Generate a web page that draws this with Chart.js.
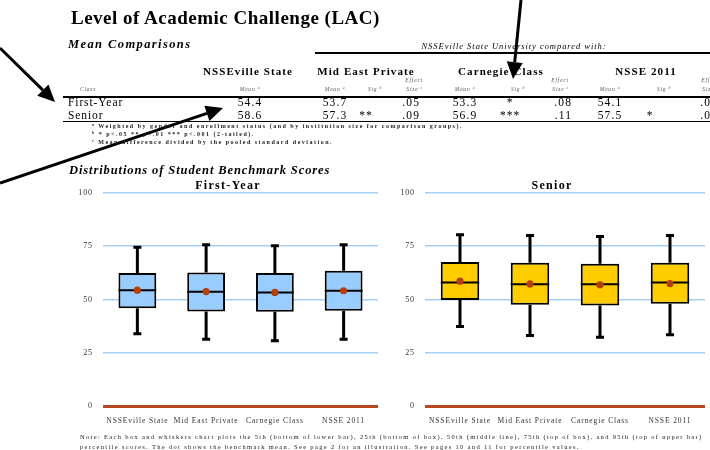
<!DOCTYPE html>
<html>
<head>
<meta charset="utf-8">
<script src="https://cdn.jsdelivr.net/npm/chart.js@4"></script>
<style>
  body { margin: 0; background: #fff; }
  #page { position: relative; width: 710px; height: 450px; overflow: hidden; background: #fff; }
  .t { position: absolute; white-space: nowrap; font-family: "Liberation Serif", "Times New Roman", serif; color: #000; }
  .t sup { font-size: 65%; vertical-align: 0.5em; line-height: 0; }
  .rule { position: absolute; background: #000; }
  .box { position: absolute; }
</style>
</head>
<body>
<div id="page">
  <div class="box" style="left:60px; top:185px; width:322px; height:240px;"><canvas id="firstYear"></canvas></div>
  <div class="box" style="left:382px; top:185px; width:328px; height:240px;"><canvas id="senior"></canvas></div>
  <svg id="arrows" width="710" height="450" style="position:absolute; left:0; top:0; pointer-events:none;"></svg>
</div>
<script>
// table data
const groups = ['NSSEville State', 'Mid East Private', 'Carnegie Class', 'NSSE 2011'];
const classes = ['First-Year', 'Senior'];
const meanFirstYear = [54.4, 53.7, 53.3, 54.1];
const meanSenior = [58.6, 57.3, 56.9, 57.5];
const sigFirstYear = ['', '', '*', ''];
const sigSenior = ['', '**', '***', '*'];
const effectFirstYear = ['', '.05', '.08', '.03'];
const effectSenior = ['', '.09', '.11', '.05'];

// box plot data (percentiles)
const fyP5 = [33.9, 31.3, 30.6, 31.3];
const fyP25 = [45.9, 44.4, 44.2, 44.7];
const fyP50 = [54.4, 53.6, 53.3, 54.1];
const fyP75 = [62.4, 62.7, 62.4, 63.5];
const fyP95 = [74.5, 75.7, 75.2, 75.7];

const srP5 = [37.3, 33.1, 32.3, 33.4];
const srP25 = [49.8, 47.5, 47.2, 48.0];
const srP50 = [58.0, 57.2, 57.2, 58.0];
const srP75 = [67.6, 67.2, 66.8, 67.2];
const srP95 = [80.4, 80.1, 79.6, 80.1];

const yTicks = [0, 25, 50, 75, 100];

const page = document.getElementById('page');

function put(html, x, base, size, o) {
  o = o || {};
  const d = document.createElement('div');
  d.className = 't';
  d.innerHTML = html;
  d.style.left = x + 'px';
  d.style.top = (base - size * 0.84) + 'px';
  d.style.fontSize = size + 'px';
  d.style.lineHeight = size + 'px';
  if (o.bold) d.style.fontWeight = 'bold';
  if (o.italic) d.style.fontStyle = 'italic';
  if (o.ls) d.style.letterSpacing = o.ls + 'px';
  if (o.color) d.style.color = o.color;
  if (o.align === 'c') d.style.transform = 'translateX(-50%)';
  if (o.align === 'r') d.style.transform = 'translateX(-100%)';
  page.appendChild(d);
}

function rule(x, y, w, h) {
  const d = document.createElement('div');
  d.className = 'rule';
  d.style.left = x + 'px'; d.style.top = y + 'px';
  d.style.width = w + 'px'; d.style.height = h + 'px';
  page.appendChild(d);
}

// headings
put('Level of Academic Challenge (LAC)', 71, 24, 19, { bold: true, ls: 0.5 });
put('Mean Comparisons', 68, 48, 12.5, { bold: true, italic: true, ls: 1.4 });
put('NSSEville State University compared with:', 514, 49, 8.5, { italic: true, align: 'c', ls: 0.95 });
rule(315, 52, 400, 1.5);

// table header
const headX = [248, 366, 501, 646];
const meanX = [250, 335, 465, 610];
const sigX = [null, 366, 510, 650];
const effX = [null, 420, 572, 718];
const sigLabelX = [null, 375, 518, 664];
const effLabelX = [null, 423, 569, 719];

groups.forEach((g, i) => put(g, headX[i], 75, 11, { bold: true, align: 'c', ls: 1.1 }));
put('Class', 80, 92, 5.5, { italic: true, color: '#555', ls: 0.8 });
groups.forEach((g, i) => {
  put('Mean <sup>a</sup>', meanX[i], 92, 5.5, { italic: true, color: '#555', align: 'c', ls: 0.8 });
  if (i > 0) {
    put('Sig <sup>b</sup>', sigLabelX[i], 92, 5.5, { italic: true, color: '#555', align: 'c', ls: 0.8 });
    put('Effect', effLabelX[i], 83, 5.5, { italic: true, color: '#555', align: 'r', ls: 0.8 });
    put('Size <sup>c</sup>', effLabelX[i], 92, 5.5, { italic: true, color: '#555', align: 'r', ls: 0.8 });
  }
});
rule(63, 96, 660, 1.5);

// table rows
const rows = [
  [meanFirstYear, sigFirstYear, effectFirstYear],
  [meanSenior, sigSenior, effectSenior]
];
rows.forEach((r, k) => {
  const base = 106.5 + k * 13;
  put(classes[k], 68, base, 11.5, { ls: 0.9 });
  r[0].forEach((m, i) => put(m.toFixed(1), meanX[i], base, 11.5, { align: 'c', ls: 1.1 }));
  r[1].forEach((s, i) => { if (s) put(s, sigX[i], base, 11.5, { align: 'c', ls: 1 }); });
  r[2].forEach((e, i) => { if (e) put(e, effX[i], base, 11.5, { align: 'r', ls: 1.1 }); });
});
rule(63, 121, 660, 1);

// footnotes
put('<sup>a</sup> Weighted by gender and enrollment status (and by institution size for comparison groups).', 92, 128, 6, { bold: true, ls: 1.5, color: '#222' });
put('<sup>b</sup> * p&lt;.05 ** p&lt;.01 *** p&lt;.001 (2-tailed).', 92, 136, 6, { bold: true, ls: 1.5, color: '#222' });
put('<sup>c</sup> Mean difference divided by the pooled standard deviation.', 92, 144, 6, { bold: true, ls: 1.5, color: '#222' });

put('Distributions of Student Benchmark Scores', 69, 174, 12.5, { bold: true, italic: true, ls: 0.9 });
put('First-Year', 228, 189, 12, { bold: true, align: 'c', ls: 1.3 });
put('Senior', 552, 189, 12, { bold: true, align: 'c', ls: 1.3 });

put('Note: Each box and whiskers chart plots the 5th (bottom of lower bar), 25th (bottom of box), 50th (middle line), 75th (top of box), and 95th (top of upper bar)', 80, 439, 6.5, { ls: 1.33, color: '#222' });
put('percentile scores. The dot shows the benchmark mean. See page 2 for an illustration. See pages 10 and 11 for percentile values.', 80, 449, 6.5, { ls: 1.33, color: '#222' });

// box plot pieces not covered by the bar element
const boxPlugin = {
  id: 'boxParts',
  beforeDraw(chart) {
    chart.ctx.letterSpacing = '0.9px';
  },
  beforeDatasetsDraw(chart) {
    const o = chart.options.plugins.boxParts;
    const x = chart.scales.x, y = chart.scales.y, ctx = chart.ctx;
    ctx.save();
    ctx.strokeStyle = '#000';
    ctx.lineWidth = 3;
    o.p5.forEach((v, i) => {
      const cx = x.getPixelForValue(i);
      ctx.beginPath();
      ctx.moveTo(cx, y.getPixelForValue(v));
      ctx.lineTo(cx, y.getPixelForValue(o.p25[i]));
      ctx.moveTo(cx, y.getPixelForValue(o.p75[i]));
      ctx.lineTo(cx, y.getPixelForValue(o.p95[i]));
      ctx.moveTo(cx - 4, y.getPixelForValue(v));
      ctx.lineTo(cx + 4, y.getPixelForValue(v));
      ctx.moveTo(cx - 4, y.getPixelForValue(o.p95[i]));
      ctx.lineTo(cx + 4, y.getPixelForValue(o.p95[i]));
      ctx.stroke();
    });
    ctx.restore();
  },
  afterDatasetDraw(chart, args) {
    if (args.index !== 0) return;
    const o = chart.options.plugins.boxParts;
    const y = chart.scales.y, ctx = chart.ctx;
    ctx.save();
    ctx.strokeStyle = '#000';
    ctx.lineWidth = 2;
    args.meta.data.forEach((bar, i) => {
      const py = y.getPixelForValue(o.p50[i]);
      ctx.beginPath();
      ctx.moveTo(bar.x - bar.width / 2, py);
      ctx.lineTo(bar.x + bar.width / 2, py);
      ctx.stroke();
    });
    ctx.restore();
  }
};

function makeChart(id, p5, p25, p50, p75, p95, means, fill, padRight) {
  return new Chart(document.getElementById(id), {
    type: 'bar',
    data: {
      labels: groups,
      datasets: [{
        type: 'bar',
        data: p25.map((v, i) => [v, p75[i]]),
        backgroundColor: fill,
        borderColor: '#000',
        borderWidth: 2,
        borderSkipped: false,
        barPercentage: 0.55,
        categoryPercentage: 1,
        order: 1
      }, {
        type: 'line',
        data: means,
        showLine: false,
        pointRadius: 3.6,
        pointBackgroundColor: '#b3400d',
        pointBorderWidth: 0,
        order: 0
      }]
    },
    options: {
      responsive: true,
      maintainAspectRatio: false,
      animation: false,
      layout: { padding: { top: 8, right: padRight, left: 0, bottom: 0 } },
      plugins: {
        legend: { display: false },
        tooltip: { enabled: false },
        boxParts: { p5, p25, p50, p75, p95 }
      },
      scales: {
        x: {
          grid: { display: false },
          border: { display: false },
          ticks: { color: '#333', font: { family: 'Liberation Serif', size: 7.5 }, padding: 3, maxRotation: 0, autoSkip: false },
          afterFit(s) { s.height = 19; s.paddingLeft = 0; s.paddingRight = 0; }
        },
        y: {
          min: 0, max: 100,
          afterBuildTicks(s) { s.ticks = yTicks.map(v => ({ value: v })); },
          grid: {
            drawTicks: false,
            color: c => c.tick.value === 0 ? '#b5481e' : '#a6cff5',
            lineWidth: c => c.tick.value === 0 ? 3 : 1.6
          },
          border: { display: false },
          ticks: { color: '#333', font: { family: 'Liberation Serif', size: 8 }, padding: 10 },
          afterFit(s) { s.width = 43; s.paddingTop = 0; s.paddingBottom = 0; }
        }
      }
    },
    plugins: [boxPlugin]
  });
}

makeChart('firstYear', fyP5, fyP25, fyP50, fyP75, fyP95, meanFirstYear, '#99ccff', 2);
makeChart('senior', srP5, srP25, srP50, srP75, srP95, meanSenior, '#ffcc00', 5);

// annotation arrows
const svg = document.getElementById('arrows');
function arrow(x1, y1, x2, y2) {
  const dx = x2 - x1, dy = y2 - y1, len = Math.hypot(dx, dy);
  const ux = dx / len, uy = dy / len;
  const bx = x2 - ux * 17, by = y2 - uy * 17;
  const ns = 'http://www.w3.org/2000/svg';
  const l = document.createElementNS(ns, 'line');
  l.setAttribute('x1', x1); l.setAttribute('y1', y1);
  l.setAttribute('x2', bx); l.setAttribute('y2', by);
  l.setAttribute('stroke', '#000'); l.setAttribute('stroke-width', 3);
  svg.appendChild(l);
  const p = document.createElementNS(ns, 'polygon');
  p.setAttribute('points', [x2, y2, bx - uy * 8, by + ux * 8, bx + uy * 8, by - ux * 8].join(' '));
  p.setAttribute('fill', '#000');
  svg.appendChild(p);
}
arrow(0, 48, 55, 102);
arrow(0, 183, 223, 108);
arrow(521, 0, 513, 79);
</script>
</body>
</html>
